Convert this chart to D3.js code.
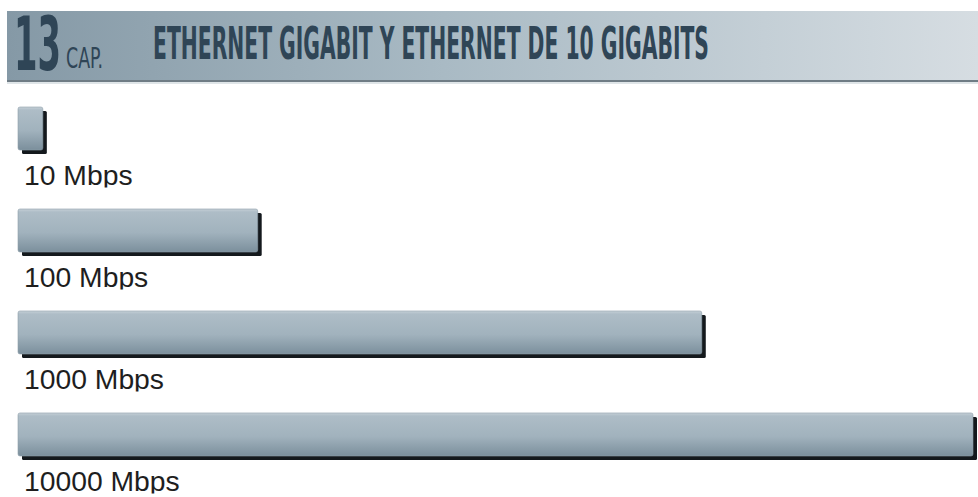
<!DOCTYPE html>
<html>
<head>
<meta charset="utf-8">
<script src="https://cdn.jsdelivr.net/npm/d3@7"></script>
<style>
  html, body { margin: 0; padding: 0; background: #ffffff; overflow: hidden; }
  svg { display: block; }
</style>
</head>
<body>
<script>
// ---- data ----
const chapterNumber = "13";
const chapterLabel = "CAP.";
const titleText = "ETHERNET GIGABIT Y ETHERNET DE 10 GIGABITS";
const categories = ["10 Mbps", "100 Mbps", "1000 Mbps", "10000 Mbps"];
const speedsMbps = [10, 100, 1000, 10000];
// relative bar length as drawn (percent of the longest bar)
const relativeLength = [2.6, 25.1, 71.6, 100];

const W = 978, H = 497;
const svg = d3.select("body").append("svg").attr("width", W).attr("height", H);
const defs = svg.append("defs");

// header gradient
const hg = defs.append("linearGradient").attr("id", "hdr").attr("x1", 0).attr("x2", 1).attr("y1", 0).attr("y2", 0);
hg.append("stop").attr("offset", 0).attr("stop-color", "#8599a6");
hg.append("stop").attr("offset", 0.45).attr("stop-color", "#a9bac4");
hg.append("stop").attr("offset", 1).attr("stop-color", "#d6dde2");

// bar gradient
const bg = defs.append("linearGradient").attr("id", "bar").attr("x1", 0).attr("x2", 0).attr("y1", 0).attr("y2", 1);
bg.append("stop").attr("offset", 0).attr("stop-color", "#c6d0d7");
bg.append("stop").attr("offset", 0.07).attr("stop-color", "#aebdc7");
bg.append("stop").attr("offset", 0.55).attr("stop-color", "#a1b2bd");
bg.append("stop").attr("offset", 1).attr("stop-color", "#7b8f9c");

// ---- header ----
const header = svg.append("g");
header.append("rect").attr("x", 7).attr("y", 11).attr("width", W - 7).attr("height", 70).attr("fill", "url(#hdr)");
header.append("rect").attr("x", 7).attr("y", 80).attr("width", W - 7).attr("height", 2).attr("fill", "#6f7c85");
header.append("rect").attr("x", 7).attr("y", 82).attr("width", W - 7).attr("height", 2).attr("fill", "#dfe5e8");

const condensed = "'DejaVu Sans Condensed', 'Liberation Sans Narrow', 'DejaVu Sans', sans-serif";

// place a text so that it fits a given box width by horizontal scaling
function fitText(g, str, x0, baseline, size, targetW, weight) {
  const t = g.append("text").text(str)
    .attr("font-family", condensed).attr("font-weight", weight).attr("font-size", size)
    .attr("fill", "#2f4556");
  const natural = t.node().getComputedTextLength();
  const s = targetW / natural;
  t.attr("transform", `translate(${x0},${baseline}) scale(${s},1)`);
  return t;
}
fitText(header, chapterNumber, 14, 70, 74, 47, "bold");
fitText(header, chapterLabel, 66, 68, 29, 37, "normal");
fitText(header, titleText, 153, 59, 44, 556, "bold");

// ---- scales ----
const x = d3.scaleLinear().domain([0, 100]).range([18, 973]);
const y = d3.scaleBand().domain(categories).range([107, 456]).paddingInner(0.578).paddingOuter(0);

const rows = svg.append("g").selectAll("g.row")
  .data(categories.map((c, i) => ({ label: c, speed: speedsMbps[i], len: relativeLength[i], i })))
  .join("g").attr("class", "row");

// clip labels (bottom of descenders cut as in the original)
rows.each(function(d) {
  defs.append("clipPath").attr("id", "clip" + d.i)
    .append("rect").attr("x", 0).attr("y", y(d.label) + 50).attr("width", W).attr("height", 30.5);
});

// shadow
rows.append("rect")
  .attr("x", d => x(0) + 4).attr("y", d => y(d.label) + 4)
  .attr("width", d => x(d.len) - x(0)).attr("height", y.bandwidth())
  .attr("rx", 1.5).attr("fill", "#14191d");
// bar
rows.append("rect")
  .attr("x", x(0)).attr("y", d => y(d.label))
  .attr("width", d => x(d.len) - x(0)).attr("height", y.bandwidth())
  .attr("rx", 2).attr("fill", "url(#bar)")
  .attr("stroke", "#8d9ea9").attr("stroke-width", 0.6);

// labels
rows.append("text")
  .attr("clip-path", d => "url(#clip" + d.i + ")")
  .attr("x", 24).attr("y", d => y(d.label) + 78)
  .attr("font-family", "'Liberation Sans', Arial, sans-serif")
  .attr("font-size", 28.3).attr("fill", "#1e1e1e")
  .text(d => d.label);
</script>
</body>
</html>
